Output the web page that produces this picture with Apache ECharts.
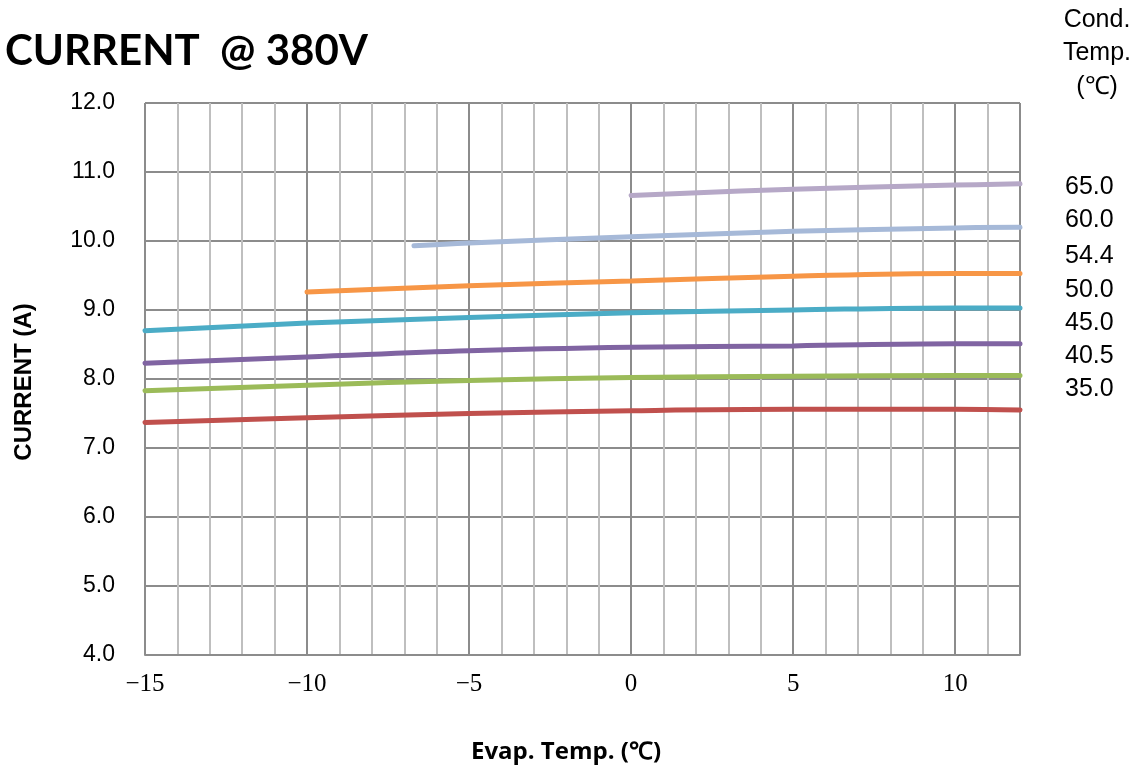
<!DOCTYPE html>
<html><head><meta charset="utf-8">
<script src="https://cdn.jsdelivr.net/npm/echarts@6/dist/echarts.min.js"></script>
<style>html,body{margin:0;padding:0;background:#fff}#c{width:1142px;height:769px}</style>
</head><body><div id="c"></div>
<script>
// Evap. temp (x) and current (A) per condensing temperature
const x35 = [-15, -10, -5, 0, 5, 10, 12];
const y35 = [7.37, 7.44, 7.50, 7.54, 7.56, 7.56, 7.55];
const x405 = [-15, -10, -5, 0, 5, 10, 12];
const y405 = [7.83, 7.91, 7.98, 8.02, 8.04, 8.05, 8.05];
const x45 = [-15, -10, -5, 0, 5, 10, 12];
const y45 = [8.23, 8.32, 8.41, 8.46, 8.48, 8.51, 8.51];
const x50 = [-15, -10, -5, 0, 5, 10, 12];
const y50 = [8.70, 8.81, 8.89, 8.96, 9.00, 9.03, 9.03];
const x544 = [-10, -5, 0, 5, 10, 12];
const y544 = [9.26, 9.35, 9.42, 9.49, 9.53, 9.53];
const x60 = [-6.7, -5, 0, 5, 10, 12];
const y60 = [9.93, 9.97, 10.06, 10.14, 10.19, 10.20];
const x65 = [0, 5, 10, 12];
const y65 = [10.66, 10.75, 10.81, 10.83];
const condLabels = ['65.0', '60.0', '54.4', '50.0', '45.0', '40.5', '35.0'];
const yTicks = [4, 5, 6, 7, 8, 9, 10, 11, 12];
const xTicks = [-15, -10, -5, 0, 5, 10];

const pairs = (xs, ys) => xs.map((v, i) => [v, ys[i]]);
const seriesDefs = [
  { name: '35.0', xs: x35, ys: y35, color: '#C0504D' },
  { name: '40.5', xs: x405, ys: y405, color: '#9BBB59' },
  { name: '45.0', xs: x45, ys: y45, color: '#8064A2' },
  { name: '50.0', xs: x50, ys: y50, color: '#4BACC6' },
  { name: '54.4', xs: x544, ys: y544, color: '#F79646' },
  { name: '60.0', xs: x60, ys: y60, color: '#A6B9D8' },
  { name: '65.0', xs: x65, ys: y65, color: '#B6A8C7' }
];

const chart = echarts.init(document.getElementById('c'), null, { renderer: 'canvas' });
const labelY = [187, 220, 256, 290, 323, 356, 389];
const sideFont = '25px "Liberation Sans"';
const graphics = [
  { type: 'text', left: 5, top: 30, style: { text: 'CURRENT  @ 380V', font: 'bold 42px Lato', fill: '#000' } },
  { type: 'text', x: 24, y: 382, rotation: Math.PI / 2, style: { text: 'CURRENT (A)', font: 'bold 24px "Liberation Sans"', fill: '#000', align: 'center', verticalAlign: 'middle' } },
  { type: 'text', x: 566, y: 752, style: { text: 'Evap. Temp. (℃)', font: 'bold 24px "Open Sans"', fill: '#000', align: 'center', verticalAlign: 'middle' } },
  { type: 'text', x: 1097, y: 20, style: { text: 'Cond.', font: sideFont, fill: '#000', align: 'center', verticalAlign: 'middle' } },
  { type: 'text', x: 1097, y: 53, style: { text: 'Temp.', font: sideFont, fill: '#000', align: 'center', verticalAlign: 'middle' } },
  { type: 'text', x: 1097, y: 87, style: { text: '(℃)', font: sideFont, fill: '#000', align: 'center', verticalAlign: 'middle' } }
];
condLabels.forEach((t, i) => graphics.push({ type: 'text', x: 1065, y: labelY[i], style: { text: t, font: sideFont, fill: '#000', align: 'left', verticalAlign: 'middle' } }));

chart.setOption({
  animation: false,
  backgroundColor: '#fff',
  grid: { left: 145, right: 122, top: 103, bottom: 114 },
  xAxis: [
    { type: 'value', min: -15, max: 12, interval: 1,
      axisLine: { show: false }, axisTick: { show: false }, axisLabel: { show: false },
      splitLine: { show: true, lineStyle: { color: '#BFBFBF', width: 2 } } },
    { type: 'value', min: -15, max: 12, interval: 5, position: 'bottom',
      axisLine: { show: true, lineStyle: { color: '#8C8C8C', width: 2 } },
      axisTick: { show: false },
      axisLabel: { showMaxLabel: false, margin: 17, color: '#000', fontFamily: 'Liberation Serif', fontSize: 25,
        formatter: v => (xTicks.indexOf(v) >= 0 ? String(v).replace('-', '−') : '') },
      splitLine: { show: true, lineStyle: { color: '#8C8C8C', width: 2 } } }
  ],
  yAxis: {
    type: 'value', min: 4, max: 12, interval: 1,
    axisLine: { show: true, lineStyle: { color: '#8C8C8C', width: 2 } },
    axisTick: { show: false },
    axisLabel: { margin: 30, color: '#000', fontFamily: 'Liberation Sans', fontSize: 23,
      formatter: v => (yTicks.indexOf(v) >= 0 ? v.toFixed(1) : '') },
    splitLine: { show: true, lineStyle: { color: '#8C8C8C', width: 2 } }
  },
  series: seriesDefs.map(s => ({
    type: 'line', name: s.name, xAxisIndex: 1, data: pairs(s.xs, s.ys),
    smooth: 0.4, showSymbol: false, symbol: 'none',
    lineStyle: { color: s.color, width: 5, cap: 'round' }, itemStyle: { color: s.color }
  })),
  graphic: graphics
});
</script></body></html>
